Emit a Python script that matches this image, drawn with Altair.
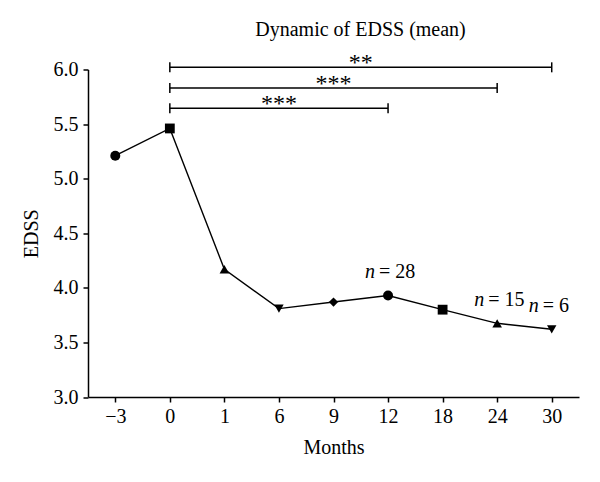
import json
import altair as alt
import pandas as pd

# ---- data ----
months = ["−3", "0", "1", "6", "9", "12", "18", "24", "30"]
edss = [5.21, 5.46, 4.17, 3.81, 3.87, 3.93, 3.80, 3.675, 3.62]
shapes = ["circle", "square", "triangle-up", "triangle-down", "diamond",
          "circle", "square", "triangle-up", "triangle-down"]

bracket_start = ["0", "0", "0"]
bracket_end = ["30", "24", "12"]
bracket_level = [6.02, 5.83, 5.645]
bracket_label = ["**", "***", "***"]

n_months = ["12", "24", "30"]
n_counts = [28, 15, 6]

y_ticks = [3.0, 3.5, 4.0, 4.5, 5.0, 5.5, 6.0]

FONT = "Liberation Serif"

# marker styling (visual sizes per symbol)
shape_domain = ["circle", "square", "triangle-up", "triangle-down", "diamond"]
shape_sizes = [100, 85, 155, 155, 85]

# ---- tables ----
idx = {m: i for i, m in enumerate(months)}
df = pd.DataFrame({"month": months, "pos": list(range(len(months))),
                   "edss": edss, "shape": shapes})
br = pd.DataFrame({
    "start": [idx[s] for s in bracket_start],
    "end": [idx[e] for e in bracket_end],
    "level": bracket_level,
    "label": bracket_label,
})
br["mid"] = (br["start"] + br["end"]) / 2
nd = pd.DataFrame({
    "pos": [idx[m] for m in n_months],
    "edss": [edss[idx[m]] for m in n_months],
    "n": ["n"] * len(n_months),
    "rest": ["= %d" % c for c in n_counts],
})

label_expr = json.dumps(months, ensure_ascii=False) + "[datum.value]"

xscale = alt.Scale(domain=[-0.5, len(months) - 0.5], nice=False, zero=False)
yscale = alt.Scale(domain=[3, 6], nice=False, zero=False)

xaxis = alt.Axis(values=list(range(len(months))), labelExpr=label_expr,
                 title="Months", labelPadding=4, titlePadding=11)
yaxis = alt.Axis(values=y_ticks, format=".1f", title="EDSS",
                 labelPadding=5, titlePadding=12)

base = alt.Chart(df)

line = base.mark_line(color="black", strokeWidth=1.4).encode(
    x=alt.X("pos:Q", scale=xscale, axis=xaxis),
    y=alt.Y("edss:Q", scale=yscale, axis=yaxis),
)
points = base.mark_point(filled=True, color="black", opacity=1).encode(
    x=alt.X("pos:Q", scale=xscale),
    y=alt.Y("edss:Q", scale=yscale),
    shape=alt.Shape("shape:N", scale=None),
    size=alt.Size("shape:N", scale=alt.Scale(domain=shape_domain, range=shape_sizes),
                  legend=None),
)

bchart = alt.Chart(br)
rules = bchart.mark_rule(color="black", strokeWidth=1.5).encode(
    x=alt.X("start:Q", scale=xscale),
    x2="end:Q",
    y=alt.Y("level:Q", scale=yscale),
)
caps = bchart.transform_fold(["start", "end"], as_=["k", "xpos"]).mark_tick(
    orient="vertical", size=10, thickness=1.5, color="black", opacity=1
).encode(
    x=alt.X("xpos:Q", scale=xscale),
    y=alt.Y("level:Q", scale=yscale),
)
stars = bchart.mark_text(font=FONT, fontSize=24, color="black",
                         baseline="alphabetic", dy=3).encode(
    x=alt.X("mid:Q", scale=xscale),
    y=alt.Y("level:Q", scale=yscale),
    text="label:N",
)

nchart = alt.Chart(nd)
n_italic = nchart.mark_text(font=FONT, fontSize=20, fontStyle="italic",
                            color="black", align="right", baseline="middle",
                            dx=-13, dy=-23).encode(
    x=alt.X("pos:Q", scale=xscale),
    y=alt.Y("edss:Q", scale=yscale),
    text="n:N",
)
n_rest = nchart.mark_text(font=FONT, fontSize=20, color="black",
                          align="left", baseline="middle",
                          dx=-9, dy=-23).encode(
    x=alt.X("pos:Q", scale=xscale),
    y=alt.Y("edss:Q", scale=yscale),
    text="rest:N",
)

chart = alt.layer(line, points, rules, caps, stars, n_italic, n_rest).properties(
    width=491,
    height=327.5,
    title=alt.TitleParams("Dynamic of EDSS (mean)", font=FONT, fontSize=20,
                          fontWeight="normal", color="black", anchor="middle",
                          frame="group", dx=27, offset=11),
    autosize=alt.AutoSizeParams(type="none"),
    padding={"left": 80, "top": 61.5, "right": 13, "bottom": 77},
).configure_axis(
    domainColor="black", domainWidth=1.5, tickColor="black", tickWidth=1.5,
    tickSize=5, labelFont=FONT, labelFontSize=20, labelColor="black",
    titleFont=FONT, titleFontSize=20, titleFontWeight="normal",
    titleColor="black", grid=False,
).configure_view(stroke=None)

chart.save("out.html", embed_options={"renderer": "svg", "actions": False})
